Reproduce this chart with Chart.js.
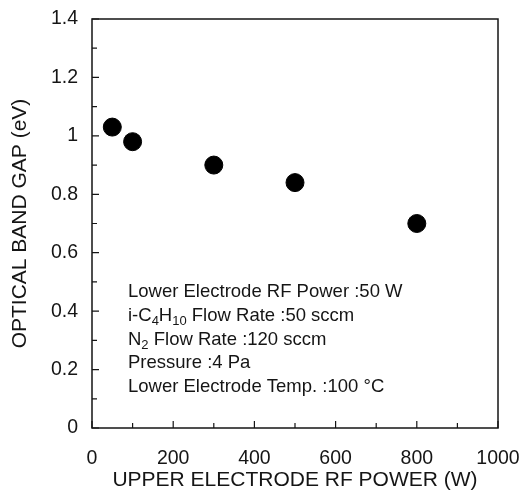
<!DOCTYPE html>
<html>
<head>
<meta charset="utf-8">
<script src="https://cdn.jsdelivr.net/npm/chart.js@4.4.1/dist/chart.umd.min.js"></script>
<style>
  html, body { margin: 0; padding: 0; background: #fff; }
  #wrap { width: 527px; height: 499px; }
</style>
</head>
<body>
<div id="wrap"><canvas id="BandGapChart"></canvas></div>
<script>
// upper electrode RF power (W) vs optical band gap (eV)
const powers = [50, 100, 300, 500, 800];
const bandGaps = [1.03, 0.98, 0.90, 0.84, 0.70];
const xTicks = [0, 200, 400, 600, 800, 1000];
const yTicks = [0, 0.2, 0.4, 0.6, 0.8, 1, 1.2, 1.4];
const xMinorTicks = [100, 300, 500, 700, 900];
const yMinorTicks = [0.1, 0.3, 0.5, 0.7, 0.9, 1.1, 1.3];
// each line is a list of [text, isSubscript]
const notes = [
    [["Lower Electrode RF Power :50 W", false]],
    [["i-C", false], ["4", true], ["H", false], ["10", true], [" Flow Rate :50 sccm", false]],
    [["N", false], ["2", true], [" Flow Rate :120 sccm", false]],
    [["Pressure :4 Pa", false]],
    [["Lower Electrode Temp. :100 \u00B0C", false]]
];

const FONT = "'Liberation Sans', Arial, sans-serif";
const INK = "#151515";

const frameAndTicks = {
    id: 'frameAndTicks',
    afterDatasetsDraw(chart) {
        const ctx = chart.ctx;
        const area = chart.chartArea;
        const xs = chart.scales.x;
        const ys = chart.scales.y;
        ctx.save();
        ctx.strokeStyle = INK;
        ctx.lineWidth = 1.5;
        ctx.strokeRect(area.left, area.top, area.right - area.left, area.bottom - area.top);
        ctx.lineWidth = 1.2;
        ctx.beginPath();
        xTicks.forEach(v => {
            const px = xs.getPixelForValue(v);
            ctx.moveTo(px, area.bottom); ctx.lineTo(px, area.bottom - 7);
        });
        xMinorTicks.forEach(v => {
            const px = xs.getPixelForValue(v);
            ctx.moveTo(px, area.bottom); ctx.lineTo(px, area.bottom - 5);
        });
        yTicks.forEach(v => {
            const py = ys.getPixelForValue(v);
            ctx.moveTo(area.left, py); ctx.lineTo(area.left + 7, py);
        });
        yMinorTicks.forEach(v => {
            const py = ys.getPixelForValue(v);
            ctx.moveTo(area.left, py); ctx.lineTo(area.left + 5, py);
        });
        ctx.stroke();

        // condition notes
        ctx.fillStyle = INK;
        ctx.textBaseline = 'alphabetic';
        const startX = area.left + 36;
        let y = 297;
        notes.forEach(line => {
            let x = startX;
            line.forEach(([txt, sub]) => {
                ctx.font = (sub ? '13px ' : '18.5px ') + FONT;
                ctx.fillText(txt, x, sub ? y + 4 : y);
                x += ctx.measureText(txt).width;
            });
            y += 23.8;
        });
        ctx.restore();
    }
};

new Chart(document.getElementById('BandGapChart').getContext('2d'), {
    type: 'scatter',
    data: {
        datasets: [{
            label: 'Optical band gap',
            data: powers.map((p, i) => ({ x: p, y: bandGaps[i] })),
            backgroundColor: '#000',
            borderColor: '#000',
            pointRadius: 9,
            pointHoverRadius: 9
        }]
    },
    options: {
        responsive: true,
        maintainAspectRatio: false,
        animation: false,
        layout: { padding: { top: 19, right: 29, left: 0, bottom: 0 } },
        plugins: { legend: { display: false }, tooltip: { enabled: false } },
        scales: {
            x: {
                type: 'linear',
                min: 0,
                max: 1000,
                afterBuildTicks: scale => { scale.ticks = xTicks.map(v => ({ value: v })); },
                afterFit: scale => {
                    scale.height = 71;
                    scale.paddingLeft = 0;
                    scale.paddingRight = 0;
                },
                grid: { display: false, drawTicks: false },
                border: { display: false },
                ticks: {
                    padding: 19,
                    color: INK,
                    font: { family: FONT, size: 19.5 },
                    maxRotation: 0,
                    callback: v => String(v)
                },
                title: {
                    display: true,
                    text: 'UPPER ELECTRODE RF POWER (W)',
                    color: INK,
                    font: { family: FONT, size: 21 },
                    padding: { top: 0, bottom: 6 }
                }
            },
            y: {
                type: 'linear',
                min: 0,
                max: 1.4,
                afterBuildTicks: scale => { scale.ticks = yTicks.map(v => ({ value: v })); },
                afterFit: scale => {
                    scale.width = 92;
                    scale.paddingTop = 0;
                    scale.paddingBottom = 0;
                },
                grid: { display: false, drawTicks: false },
                border: { display: false },
                ticks: {
                    padding: 14,
                    color: INK,
                    font: { family: FONT, size: 19.5 },
                    callback: v => String(+v.toFixed(1))
                },
                title: {
                    display: true,
                    text: 'OPTICAL BAND GAP (eV)',
                    color: INK,
                    font: { family: FONT, size: 21 },
                    padding: { top: 8, bottom: 0 }
                }
            }
        }
    },
    plugins: [frameAndTicks]
});
</script>
</body>
</html>
